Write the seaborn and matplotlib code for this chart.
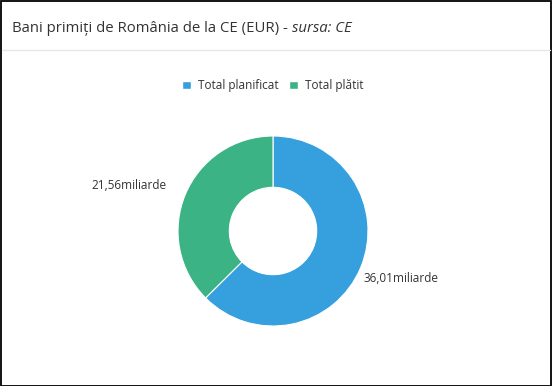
import matplotlib
matplotlib.use("Agg")
import matplotlib.pyplot as plt
import seaborn as sns
import numpy as np
from matplotlib.patches import Rectangle
from matplotlib.lines import Line2D

categories = ["Total planificat", "Total plătit"]
values = [36.01, 21.56]
unit = "miliarde"
title_main = "Bani primiți de România de la CE (EUR) - "
title_src = "sursa: CE"

sns.set_theme(style="white")
plt.rcParams['font.family'] = ['Open Sans', 'DejaVu Sans']
colors = ["#35a0dd", "#3cb385"]

W, H = 552, 386
fig = plt.figure(figsize=(W / 100, H / 100), dpi=100)
fig.patch.set_facecolor("white")

# border
fig.patches.append(Rectangle((0.5 / W, 0.5 / H), 1 - 1.5 / W, 1 - 1.5 / H, transform=fig.transFigure,
                             fill=False, edgecolor="black", linewidth=1.3))
# separator
fig.add_artist(Line2D([2 / W, 1 - 2 / W], [1 - 49.5 / H, 1 - 49.5 / H], transform=fig.transFigure,
                      color="#e6e6e6", linewidth=1))

# title
t1 = fig.text(12 / W, 1 - 28 / H, title_main, fontsize=10.7, color="#333333", va="center", ha="left")
fig.canvas.draw()
bb = t1.get_window_extent()
fig.text(bb.x1 / W, 1 - 28 / H, title_src, fontsize=10.7, color="#333333", va="center", ha="left",
         style="italic")

# pie axes
cx, cy, R = 273, 231, 95
lim = 1.05
size = 2 * lim * R
ax = fig.add_axes([(cx - size / 2) / W, (H - cy - size / 2) / H, size / W, size / H])
wedges, _ = ax.pie(values, colors=colors, startangle=90, counterclock=False, radius=1,
                   wedgeprops=dict(width=0.54, edgecolor="white", linewidth=0.8))
ax.set_xlim(-lim, lim)
ax.set_ylim(-lim, lim)
ax.set_aspect("equal")
ax.axis("off")

# label offsets in pixels (style)
label_offsets = [(3, -11), (-19, 9)]
for w, v, off in zip(wedges, values, label_offsets):
    ang = np.deg2rad((w.theta1 + w.theta2) / 2)
    x, y = np.cos(ang), np.sin(ang)
    lab = f"{v:.2f}".replace(".", ",") + unit
    ha = "left" if x > 0 else "right"
    ax.annotate(lab, xy=(x, y), xytext=(off[0] * 0.72, off[1] * 0.72), textcoords="offset points",
                ha=ha, va="center", fontsize=8.5, color="#333333")

handles = [Rectangle((0, 0), 1, 1, facecolor=c) for c in colors]
fig.legend(handles, categories, loc="center", bbox_to_anchor=(273 / W, 1 - 85.5 / H), ncol=2,
           frameon=False, fontsize=8.5, handlelength=0.75, handleheight=0.75, handletextpad=0.6,
           columnspacing=0.9, labelcolor="#333333")

fig.savefig("out.png", dpi=100)
